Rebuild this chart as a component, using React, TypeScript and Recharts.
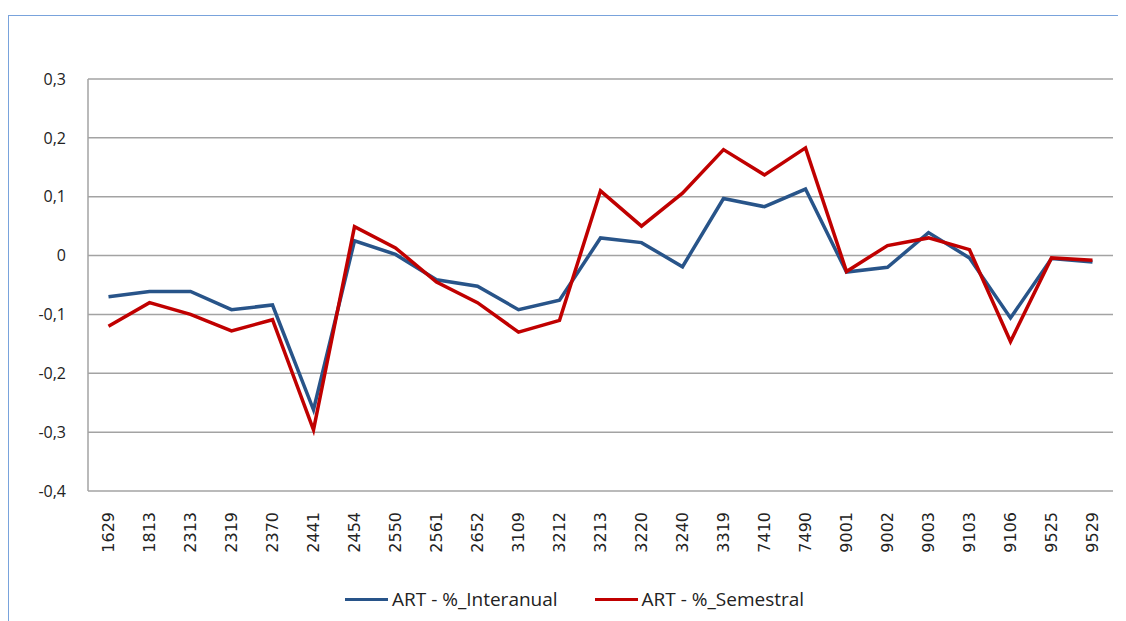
import { CartesianGrid, Legend, Line, LineChart, XAxis, YAxis } from "recharts";

const categories = [
  "1629", "1813", "2313", "2319", "2370", "2441", "2454", "2550", "2561", "2652",
  "3109", "3212", "3213", "3220", "3240", "3319", "7410", "7490", "9001", "9002",
  "9003", "9103", "9106", "9525", "9529",
];

const interanual = [
  -0.07, -0.061, -0.061, -0.092, -0.084, -0.262, 0.025, 0.002, -0.041, -0.052,
  -0.092, -0.076, 0.03, 0.022, -0.019, 0.097, 0.083, 0.113, -0.028, -0.02,
  0.039, -0.004, -0.106, -0.005, -0.011,
];

const semestral = [
  -0.12, -0.08, -0.1, -0.128, -0.109, -0.296, 0.049, 0.013, -0.045, -0.08,
  -0.13, -0.11, 0.11, 0.05, 0.106, 0.18, 0.137, 0.183, -0.027, 0.017,
  0.03, 0.01, -0.146, -0.004, -0.008,
];

const yTicks = [-0.4, -0.3, -0.2, -0.1, 0, 0.1, 0.2, 0.3];

const SERIES = [
  { key: "interanual", name: "ART - %_Interanual", color: "#285489" },
  { key: "semestral", name: "ART - %_Semestral", color: "#c00000" },
];

const rows = categories.map((c, i) => ({ cat: c, interanual: interanual[i], semestral: semestral[i] }));

const fmt = (v: number) => String(v).replace(".", ",");

function XTick({ x, y, payload }: any) {
  return (
    <text
      x={x}
      y={y}
      dy="0.36em"
      transform={`rotate(-90, ${x}, ${y})`}
      textAnchor="end"
      fontFamily="DejaVu Sans"
      fontSize={16}
      fill="#222"
    >
      {payload.value}
    </text>
  );
}

function LegendBox() {
  return (
    <div style={{ display: "flex", alignItems: "center", fontFamily: "Open Sans", fontSize: 19, color: "#222", whiteSpace: "nowrap" }}>
      {SERIES.map((s, i) => (
        <div key={s.key} style={{ display: "flex", alignItems: "center", marginLeft: i ? 37 : 0 }}>
          <span style={{ display: "inline-block", width: 43, height: 3, background: s.color, marginRight: 4 }} />
          <span>{s.name}</span>
        </div>
      ))}
    </div>
  );
}

export default function App() {
  return (
    <div style={{ marginTop: 7, width: 1117, height: 605, borderLeft: "1px solid #79a3dc", borderTop: "1px solid #79a3dc" }}>
      <LineChart width={1117} height={605} data={rows} margin={{ top: 63, right: 13, bottom: 0, left: 0 }}>
        <CartesianGrid vertical={false} stroke="#a3a3a3" strokeWidth={1.5} />
        <XAxis
          dataKey="cat"
          height={130}
          padding={{ left: 20.5, right: 20.5 }}
          axisLine={false}
          tickLine={false}
          tickMargin={15}
          interval={0}
          tick={<XTick />}
        />
        <YAxis
          width={79}
          domain={[-0.4, 0.3]}
          ticks={yTicks}
          tickFormatter={fmt}
          axisLine={{ stroke: "#a3a3a3", strokeWidth: 1.5 }}
          tickLine={false}
          tickMargin={16}
          tick={{ fontFamily: "Open Sans", fontSize: 16, fill: "#222" }}
        />
        <Legend
          verticalAlign="middle"
          align="center"
          content={<LegendBox />}
          wrapperStyle={{ left: 336, top: 570, width: 520, height: 24 }}
        />
        {SERIES.map((s) => (
          <Line
            key={s.key}
            type="linear"
            dataKey={s.key}
            name={s.name}
            stroke={s.color}
            strokeWidth={3.5}
            dot={false}
            isAnimationActive={false}
          />
        ))}
      </LineChart>
    </div>
  );
}
